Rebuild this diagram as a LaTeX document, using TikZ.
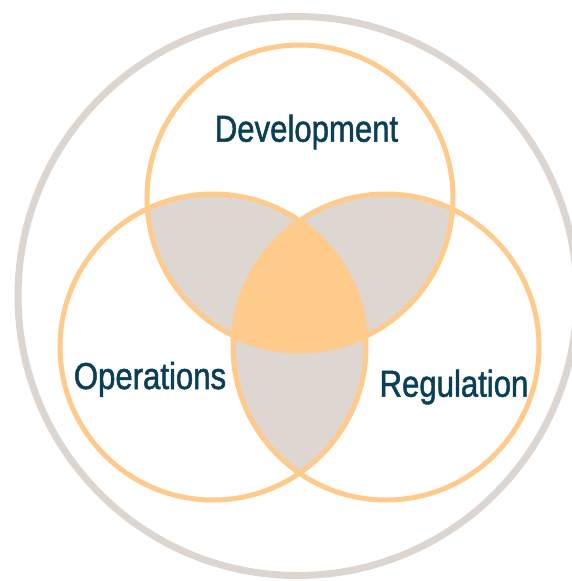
\documentclass[tikz,border=0pt]{standalone}
\usepackage{fontspec}
\setmainfont{Liberation Sans}[FakeStretch=0.83,FakeBold=1.3]
\definecolor{vennline}{HTML}{FFCB8C}
\definecolor{venncore}{HTML}{FFCB8B}
\definecolor{lensgray}{HTML}{DED6D1}
\definecolor{outerring}{HTML}{DDD5CF}
\definecolor{labelblue}{HTML}{0B3F56}
\begin{document}
\begin{tikzpicture}[x=1pt,y=-1pt,
  ring/.style={draw=vennline,line width=5pt},
  setlabel/.style={text=labelblue,font=\fontsize{37.5}{40}\selectfont,anchor=base,inner sep=0pt}]
\useasboundingbox (0,0) rectangle (571,581);
\coordinate (ctop) at (300,198);
\coordinate (cleft) at (213,347);
\coordinate (cright) at (386,347);
\coordinate (cbig) at (297.5,296);
% enclosing ring
\draw[outerring,line width=7pt] (cbig) circle[radius=279.5pt];
% pairwise overlaps
\begin{scope}
  \clip (ctop) circle[radius=153pt];
  \fill[lensgray] (cleft) circle[radius=153pt];
  \fill[lensgray] (cright) circle[radius=153pt];
\end{scope}
\begin{scope}
  \clip (cleft) circle[radius=153pt];
  \fill[lensgray] (cright) circle[radius=153pt];
\end{scope}
% common core
\begin{scope}
  \clip (ctop) circle[radius=153pt];
  \clip (cleft) circle[radius=153pt];
  \fill[venncore] (cright) circle[radius=153pt];
\end{scope}
% the three sets
\draw[ring] (ctop) circle[radius=153pt];
\draw[ring] (cleft) circle[radius=153pt];
\draw[ring] (cright) circle[radius=153pt];
% labels
\node[setlabel] (dev) at (306.5,141.7) {Development};
\node[setlabel] (ops) at (150,389) {Operations};
\node[setlabel] (reg) at (454,396.7) {Regulation};
\end{tikzpicture}
\end{document}
